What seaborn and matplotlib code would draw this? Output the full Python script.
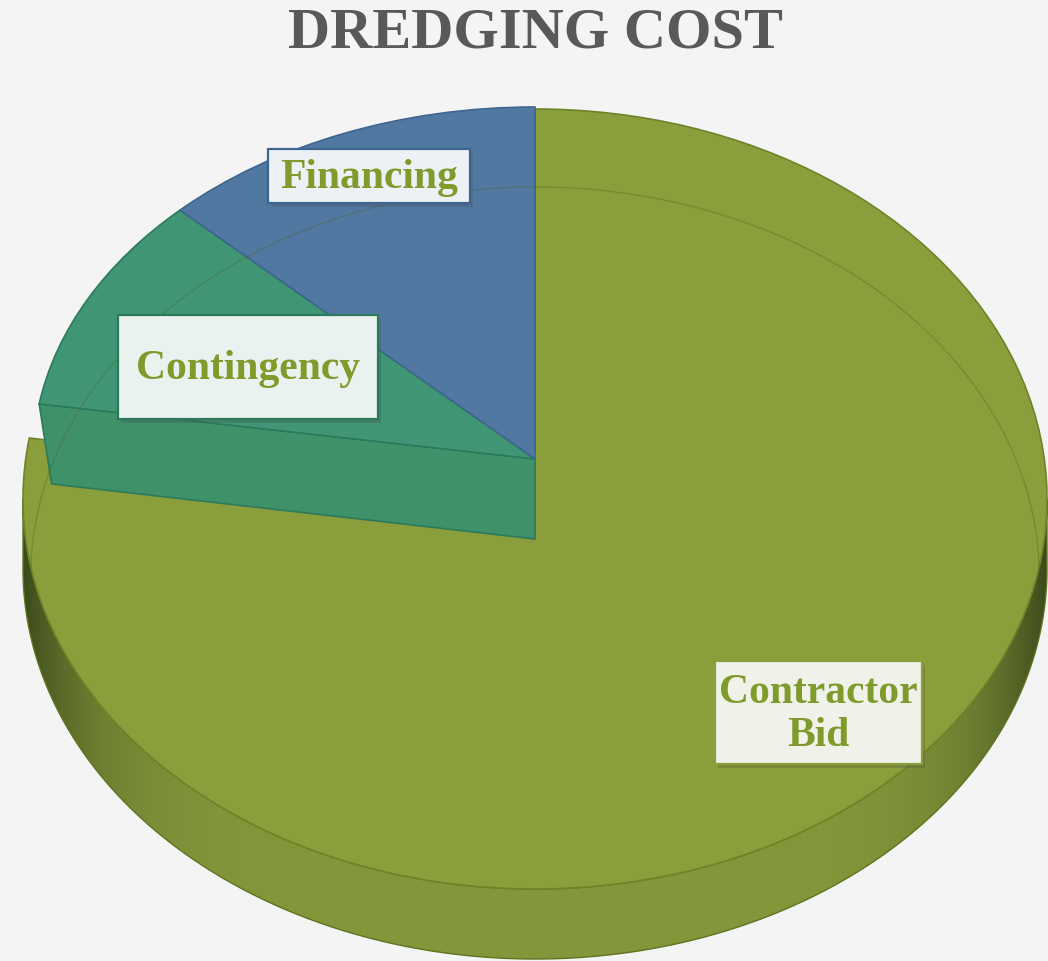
import numpy as np
import matplotlib
matplotlib.use("Agg")
import matplotlib.pyplot as plt
import matplotlib.patheffects as pe
from matplotlib.patches import Polygon, Rectangle
import seaborn as sns

# ---- data ----
categories = ["Contractor Bid", "Contingency", "Financing"]
values = [77.5, 10.0, 12.5]
label_texts = ["Contractor\nBid", "Contingency", "Financing"]
title = "DREDGING COST"

sns.set_theme(style="white")
plt.rcParams["font.family"] = ["Liberation Serif", "DejaVu Serif"]

palette = sns.color_palette(["#8a9e3b", "#3f9574", "#5078a1"])
edge_cols = ["#6e8428", "#2c7a5c", "#3d6590"]
box_faces = ["#f0f1e9", "#e9f2ee", "#edf1f5"]
text_col = "#7e9b2c"

W, H = 1048, 962
fig = plt.figure(figsize=(W / 100, H / 100), dpi=100)
fig.patch.set_facecolor("#f4f4f4")


def make_axes(z):
    ax = fig.add_axes([0, 0, 1, 1], zorder=z)
    ax.patch.set_alpha(0)
    return ax


def set_lims(ax, cx, cy, rx, ry):
    ax.set_aspect("auto")
    ax.set_xlim(-cx / rx, (W - cx) / rx)
    ax.set_ylim(-(H - cy) / ry, cy / ry)
    ax.axis("off")


def draw_pie(ax):
    wedges, _ = ax.pie(values, colors=palette, startangle=90, counterclock=False,
                       radius=1, center=(0, 0),
                       wedgeprops=dict(linewidth=1.2))
    for w, ec in zip(wedges, edge_cols):
        w.set_edgecolor(ec)
    return wedges


# ---- main (Contractor Bid) disk ----
G = (535, 500, 512, 390)
depth_g = 70 / G[3]
ax_g = make_axes(1)
wedges_g = draw_pie(ax_g)
for w in wedges_g[1:]:
    w.set_visible(False)
wedges_g[0].set_zorder(3)

t = np.linspace(np.pi, 2 * np.pi, 300)
top = np.column_stack([np.cos(t), np.sin(t)])
bot = np.column_stack([np.cos(t), np.sin(t) - depth_g])
wall = Polygon(np.vstack([top, bot[::-1]]), closed=True, facecolor="none",
               edgecolor="#5f7420", linewidth=1.0, zorder=2)
ax_g.add_patch(wall)
xs = np.linspace(-1, 1, 400)
f = np.abs(xs) ** 7
mid = np.array([0.515, 0.592, 0.228])
dark = np.array([0.24, 0.29, 0.11])
grad = (mid[None, :] * (1 - f[:, None]) + dark[None, :] * f[:, None])[None, :, :]
im = ax_g.imshow(grad, extent=(-1, 1, -1 - depth_g, 0), aspect="auto",
                 zorder=1, interpolation="bilinear")
im.set_clip_path(wall)
set_lims(ax_g, *G)

# ---- raised smaller slices ----
S = (535, 460, 502, 352)
depth_s = 80 / S[3]
ax_s = make_axes(2)
wedges_s = draw_pie(ax_s)
wedges_s[0].set_visible(False)
for w in wedges_s[1:]:
    w.set_zorder(3)
b = np.deg2rad(wedges_s[1].theta2)  # boundary between contingency and bid
P = (np.cos(b), np.sin(b))
side = Polygon([(0, 0), P, (P[0] * 0.975, P[1] - depth_s), (0, -depth_s)],
               closed=True, facecolor="#3f9169", edgecolor="#2c7a5c",
               linewidth=1.2, zorder=2)
ax_s.add_patch(side)
set_lims(ax_s, *S)

# ---- faint hidden bottom edge seen through the slices ----
ax_arc = make_axes(3)
ta = np.linspace(0, np.pi, 300)
ax_arc.plot(0.985 * np.cos(ta), np.sin(ta) - 78 / G[3], color="#4d5e1c",
            alpha=0.3, linewidth=1.0)
set_lims(ax_arc, *G)

# ---- labels and title ----
ax_t = make_axes(4)
ax_t.set_xlim(0, W)
ax_t.set_ylim(H, 0)
ax_t.axis("off")

boxes = [(715, 662, 207, 103), (118, 316, 260, 104), (268, 150, 202, 54)]
for txt, (bx, by, bw, bh), fc, ec in zip(label_texts, boxes, box_faces, edge_cols):
    ec2 = "#8a9e3b" if ec == edge_cols[0] else ec
    r = Rectangle((bx, by), bw, bh, facecolor=fc, edgecolor=ec2, linewidth=1.6,
                  path_effects=[pe.SimplePatchShadow(offset=(2, -3), alpha=0.25),
                                pe.Normal()])
    ax_t.add_patch(r)
    ax_t.text(bx + bw / 2, by + bh / 2 + 1, txt, ha="center", va="center",
              fontsize=30, fontweight="bold", color=text_col, linespacing=1.2)

ax_t.text(535, 33, title, ha="center", va="center", fontsize=42,
          fontweight="bold", color="#595959")

fig.savefig("out.png", dpi=100, facecolor=fig.get_facecolor())
